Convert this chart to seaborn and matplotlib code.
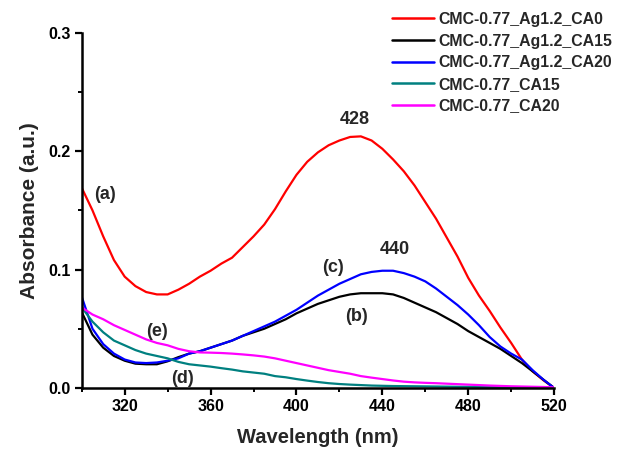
import matplotlib
matplotlib.use("Agg")
from matplotlib import pyplot as plt
from matplotlib.ticker import MultipleLocator, FormatStrFormatter
import pandas as pd
import seaborn as sns

# wavelength grid (nm), every 5 nm
wavelength = list(range(300, 525, 5))

ca0_ag = [0.169, 0.150, 0.128, 0.108, 0.094, 0.086, 0.081, 0.079, 0.079, 0.083,
          0.088, 0.094, 0.099, 0.105, 0.110, 0.119, 0.128, 0.138, 0.151, 0.166,
          0.180, 0.191, 0.199, 0.205, 0.209, 0.212, 0.2125, 0.209, 0.202, 0.193,
          0.183, 0.171, 0.157, 0.143, 0.127, 0.111, 0.093, 0.078, 0.065, 0.051,
          0.038, 0.024, 0.014, 0.0065, 0.0]
ca15_ag = [0.064, 0.045, 0.034, 0.027, 0.023, 0.0205, 0.020, 0.020, 0.0225, 0.026,
           0.029, 0.031, 0.034, 0.037, 0.040, 0.044, 0.047, 0.050, 0.054, 0.058,
           0.063, 0.067, 0.071, 0.074, 0.077, 0.079, 0.080, 0.080, 0.080, 0.079,
           0.076, 0.072, 0.068, 0.064, 0.059, 0.054, 0.048, 0.043, 0.038, 0.033,
           0.027, 0.021, 0.014, 0.007, 0.0]
ca20_ag = [0.077, 0.050, 0.037, 0.029, 0.024, 0.0215, 0.021, 0.0215, 0.023, 0.025,
           0.029, 0.031, 0.034, 0.037, 0.040, 0.044, 0.048, 0.052, 0.056, 0.061,
           0.066, 0.072, 0.078, 0.083, 0.088, 0.092, 0.096, 0.098, 0.099, 0.099,
           0.097, 0.094, 0.090, 0.084, 0.077, 0.070, 0.062, 0.053, 0.043, 0.035,
           0.029, 0.024, 0.015, 0.007, 0.0]
ca15 = [0.068, 0.056, 0.047, 0.040, 0.036, 0.032, 0.029, 0.027, 0.025, 0.022,
        0.020, 0.019, 0.018, 0.0167, 0.0155, 0.014, 0.013, 0.012, 0.010, 0.009,
        0.0075, 0.0062, 0.005, 0.004, 0.0033, 0.0028, 0.0024, 0.002, 0.0018, 0.0016,
        0.0015, 0.0014, 0.0013, 0.0012, 0.0011, 0.001, 0.001, 0.0009, 0.0008, 0.0007,
        0.0006, 0.0005, 0.0003, 0.0002, 0.0]
ca20 = [0.068, 0.062, 0.058, 0.053, 0.049, 0.045, 0.041, 0.038, 0.036, 0.033,
        0.031, 0.030, 0.0298, 0.0295, 0.029, 0.0283, 0.0275, 0.0265, 0.025, 0.023,
        0.021, 0.019, 0.017, 0.015, 0.0135, 0.012, 0.010, 0.0087, 0.0075, 0.0063,
        0.0053, 0.0047, 0.0043, 0.004, 0.0036, 0.0032, 0.0028, 0.0024, 0.002, 0.0017,
        0.0014, 0.0012, 0.001, 0.0008, 0.0005]

series_names = ["CMC-0.77_Ag1.2_CA0", "CMC-0.77_Ag1.2_CA15", "CMC-0.77_Ag1.2_CA20",
                "CMC-0.77_CA15", "CMC-0.77_CA20"]
series_values = [ca0_ag, ca15_ag, ca20_ag, ca15, ca20]
colors = ["#ff0000", "#000000", "#0000ff", "#008080", "#ff00ff"]

# curve labels and peak labels: (text, wavelength, absorbance)
notes = [("(a)", 310.6, 0.163), ("(b)", 428, 0.060), ("(c)", 417, 0.102),
         ("(d)", 347, 0.0076), ("(e)", 335, 0.048), ("428", 427, 0.2265),
         ("440", 445.6, 0.1167)]

df = pd.concat([pd.DataFrame({"wavelength": wavelength, "absorbance": v, "sample": n})
                for n, v in zip(series_names, series_values)], ignore_index=True)

sns.set_theme(style="ticks")
plt.rcParams["font.family"] = ["Liberation Sans", "DejaVu Sans"]
plt.rcParams["font.weight"] = "bold"

fig = plt.figure(figsize=(6.24, 4.49), dpi=100)
ax = fig.add_axes([0.131, 0.136, 0.757, 0.791])

sns.lineplot(data=df, x="wavelength", y="absorbance", hue="sample",
             palette=dict(zip(series_names, colors)), hue_order=series_names,
             sort=False, linewidth=1.6, ax=ax, legend=False)

ax.set_xlim(300, 520)
ax.set_ylim(0, 0.3)
ax.set_xticks([320, 360, 400, 440, 480, 520])
ax.xaxis.set_minor_locator(MultipleLocator(20))
ax.yaxis.set_major_locator(MultipleLocator(0.1))
ax.yaxis.set_minor_locator(MultipleLocator(0.05))
ax.yaxis.set_major_formatter(FormatStrFormatter("%.1f"))

sns.despine(ax=ax)
for s in ["left", "bottom"]:
    ax.spines[s].set_linewidth(1.8)
    ax.spines[s].set_color("black")
ax.tick_params(which="major", direction="out", length=5, width=1.6,
               labelsize=11.5, colors="black", pad=3)
ax.tick_params(which="minor", direction="out", length=3, width=1.4, colors="black")
for lab in ax.get_xticklabels() + ax.get_yticklabels():
    lab.set_fontweight("bold")

ax.set_xlabel("Wavelength (nm)", fontsize=14.5, fontweight="bold", labelpad=10)
ax.set_ylabel("Absorbance (a.u.)", fontsize=15, fontweight="bold", labelpad=7)

for txt, x, y in notes:
    ax.text(x, y, txt, fontsize=13, fontweight="bold", ha="center", va="center")

handles = [plt.Line2D([], [], color=c, lw=1.8) for c in colors]
fig.legend(handles, series_names, loc="upper right", bbox_to_anchor=(1.0, 1.0),
           frameon=False, handlelength=2.6, handletextpad=0.3,
           labelspacing=0.42, borderpad=0.25, prop={"weight": "bold", "size": 11.4})

fig.savefig("out.png", dpi=100)
